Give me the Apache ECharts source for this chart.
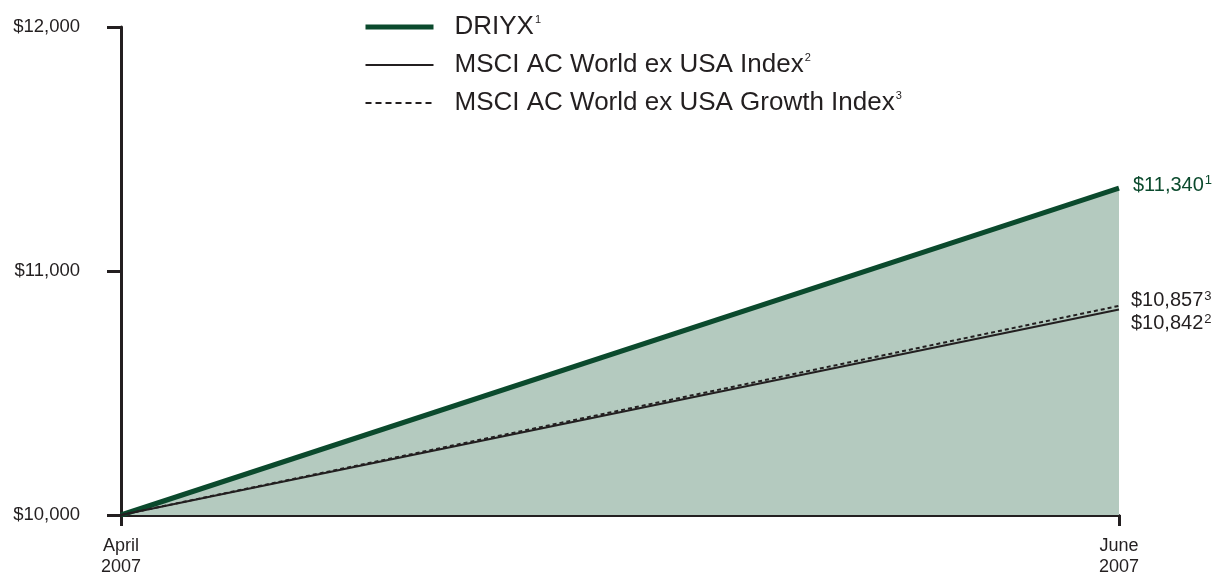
<!DOCTYPE html>
<html>
<head>
<meta charset="utf-8">
<script src="https://cdn.jsdelivr.net/npm/echarts@6/dist/echarts.min.js"></script>
<style>
  html, body { margin: 0; padding: 0; background: #fff; }
  #chart { width: 1218px; height: 573px; }
</style>
</head>
<body>
<div id="chart"></div>
<script>
// growth of $10,000, April 2007 -> June 2007
const categories = ['April\n2007', 'June\n2007'];
const driyx = [10000, 11340];
const acwiExUsa = [10000, 10842];
const acwiExUsaGrowth = [10000, 10857];
const yTicks = [10000, 11000, 12000];

const GREEN = '#0b4a2d';
const INK = '#231f20';
const FILL = '#b4cabf';
const FONT = '"Liberation Sans", Arial, Helvetica, sans-serif';

const fmtMoney = (v) => '$' + v.toLocaleString('en-US');

const supRich = (color, size) => ({
  v: { fontFamily: FONT, fontSize: size, color: color, lineHeight: 22 },
  s: { fontFamily: FONT, fontSize: 13, color: color, verticalAlign: 'top', lineHeight: 22, padding: [0, 0, 6, 1] },
});

const chart = echarts.init(document.getElementById('chart'), null, { renderer: 'canvas' });

chart.setOption({
  animation: false,
  backgroundColor: '#fff',
  grid: { left: 121, right: 99, top: 27, bottom: 58, containLabel: false, outerBoundsMode: 'none' },
  legend: {
    orient: 'vertical',
    left: 358,
    top: 9,
    itemWidth: 68,
    itemHeight: 26,
    itemGap: 12,
    itemStyle: { opacity: 0 },
    data: [
      { name: 'DRIYX', lineStyle: { width: 5 } },
      { name: 'MSCI AC World ex USA Index', lineStyle: { width: 2 } },
      { name: 'MSCI AC World ex USA Growth Index', lineStyle: { width: 2, type: [6, 4] } },
    ],
    formatter: function (name) {
      const sup = { 'DRIYX': '1', 'MSCI AC World ex USA Index': '2', 'MSCI AC World ex USA Growth Index': '3' }[name];
      return '{v|' + name + '}{s|' + sup + '}';
    },
    textStyle: {
      padding: [0, 0, 0, 16],
      rich: {
        v: { fontFamily: FONT, fontSize: 26, color: INK, lineHeight: 26 },
        s: { fontFamily: FONT, fontSize: 11, color: INK, verticalAlign: 'top', lineHeight: 26, padding: [0, 0, 8, 1] },
      },
    },
  },
  xAxis: {
    type: 'category',
    boundaryGap: false,
    data: categories,
    axisLine: { lineStyle: { color: INK, width: 3 } },
    axisTick: { show: true, length: 11, lineStyle: { color: INK, width: 3 } },
    axisLabel: { fontFamily: FONT, fontSize: 18, color: INK, lineHeight: 21, margin: 21 },
  },
  yAxis: {
    type: 'value',
    min: yTicks[0],
    max: yTicks[yTicks.length - 1],
    interval: 1000,
    splitLine: { show: false },
    axisLine: { show: true, lineStyle: { color: INK, width: 3 } },
    axisTick: { show: true, length: 14, lineStyle: { color: INK, width: 3 } },
    axisLabel: { fontFamily: FONT, fontSize: 18.5, color: INK, margin: 41, formatter: fmtMoney },
  },
  series: [
    {
      name: 'DRIYX',
      type: 'line',
      data: driyx,
      symbol: 'none',
      lineStyle: { color: GREEN, width: 5 },
      itemStyle: { color: GREEN },
      areaStyle: { color: FILL, opacity: 1 },
      z: 2,
      endLabel: {
        show: true,
        distance: 14,
        offset: [0, -3],
        formatter: (p) => '{v|' + fmtMoney(p.value) + '}{s|1}',
        rich: supRich(GREEN, 20),
      },
    },
    {
      name: 'MSCI AC World ex USA Index',
      type: 'line',
      data: acwiExUsa,
      symbol: 'none',
      lineStyle: { color: INK, width: 2 },
      itemStyle: { color: INK },
      z: 3,
      endLabel: {
        show: true,
        distance: 12,
        offset: [0, 14],
        formatter: (p) => '{v|' + fmtMoney(p.value) + '}{s|2}',
        rich: supRich(INK, 20),
      },
    },
    {
      name: 'MSCI AC World ex USA Growth Index',
      type: 'line',
      data: acwiExUsaGrowth,
      symbol: 'none',
      lineStyle: { color: INK, width: 2, type: [4, 3] },
      itemStyle: { color: INK },
      z: 4,
      endLabel: {
        show: true,
        distance: 12,
        offset: [0, -5],
        formatter: (p) => '{v|' + fmtMoney(p.value) + '}{s|3}',
        rich: supRich(INK, 20),
      },
    },
  ],
});
</script>
</body>
</html>
